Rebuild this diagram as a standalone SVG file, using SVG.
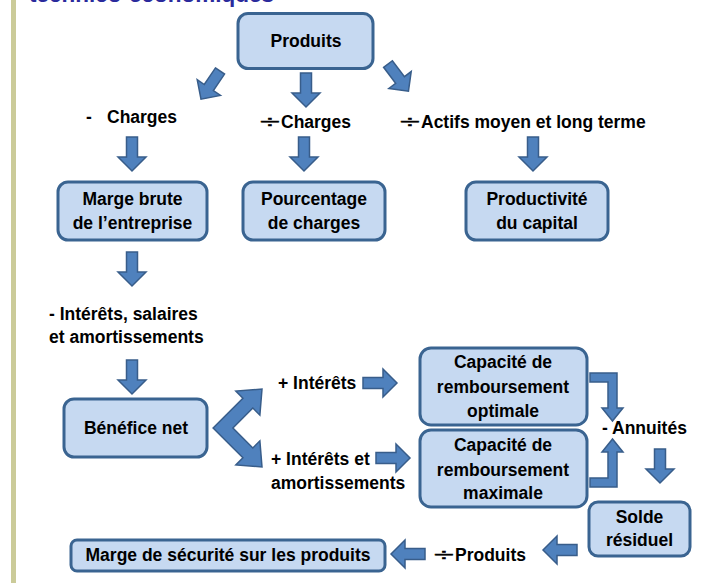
<svg xmlns="http://www.w3.org/2000/svg" width="704" height="583" viewBox="0 0 704 583">
<style>
.box{fill:#C6D9F1;stroke:#3A6491;stroke-width:3}
.t{font-family:"Liberation Sans",Arial,sans-serif;font-weight:bold;font-size:17.5px;fill:#000}
.c{text-anchor:middle}
.dv{font-family:"Liberation Sans",Arial,sans-serif;font-size:19px;fill:#000;text-anchor:middle;stroke:#000;stroke-width:0.4}
.arr{fill:#4F81BD;stroke:#385D8A;stroke-width:1.5;stroke-linejoin:miter}
</style>
<defs>
<path id="dn" d="M-5.5,0 H5.5 V20 H14 L0,34 L-14,20 H-5.5 Z"/>
</defs>
<rect x="11" y="0" width="5" height="583" fill="#CBCB99"/>
<text x="29" y="2.2" font-family="Liberation Sans, Arial, sans-serif" font-weight="bold" font-size="22.5" fill="#2A2A9C">technico-économiques</text>

<g id="produits"><rect class="box" x="238" y="13.5" width="135" height="55" rx="10"/><text class="t c" x="306" y="47">Produits</text></g>

<g id="lbl-charges1"><text class="t" x="86" y="123">-</text><text class="t" x="107" y="123">Charges</text></g>
<g id="lbl-charges2"><text class="dv" transform="translate(270,128) scale(1.9,1)">÷</text><text class="t" x="281" y="128">Charges</text></g>
<g id="lbl-actifs"><text class="dv" transform="translate(410,128) scale(1.9,1)">÷</text><text class="t" x="421" y="128">Actifs moyen et long terme</text></g>

<g id="marge-brute"><rect class="box" x="58" y="182" width="149" height="58" rx="10"/><text class="t c" x="132.5" y="205">Marge brute</text><text class="t c" x="132.5" y="229">de l’entreprise</text></g>
<g id="pourcentage"><rect class="box" x="243" y="182" width="142" height="58" rx="10"/><text class="t c" x="314" y="205">Pourcentage</text><text class="t c" x="314" y="229">de charges</text></g>
<g id="productivite"><rect class="box" x="466" y="182" width="142" height="58" rx="10"/><text class="t c" x="537" y="205">Productivité</text><text class="t c" x="537" y="229">du capital</text></g>

<g id="lbl-interets-salaires"><text class="t" x="49" y="320">- Intérêts, salaires</text><text class="t" x="49" y="343">et amortissements</text></g>

<g id="benefice"><rect class="box" x="64" y="399" width="143" height="58" rx="10"/><text class="t c" x="136" y="434">Bénéfice net</text></g>

<g id="lbl-interets"><text class="t" x="278" y="389">+ Intérêts</text></g>
<g id="lbl-interets-amort"><text class="t" x="271" y="465">+ Intérêts et</text><text class="t" x="271" y="489">amortissements</text></g>

<g id="cap-optimale"><rect class="box" x="420" y="348" width="167" height="77" rx="11"/><text class="t c" x="503" y="368">Capacité de</text><text class="t c" x="503" y="393">remboursement</text><text class="t c" x="503" y="417">optimale</text></g>
<g id="cap-maximale"><rect class="box" x="420" y="430" width="167" height="77" rx="11"/><text class="t c" x="503" y="451">Capacité de</text><text class="t c" x="503" y="476">remboursement</text><text class="t c" x="503" y="499">maximale</text></g>

<g id="lbl-annuites"><text class="t" x="602" y="434">- Annuités</text></g>

<g id="solde"><rect class="box" x="589" y="502" width="101" height="54" rx="9"/><text class="t c" x="639.5" y="523">Solde</text><text class="t c" x="639.5" y="546">résiduel</text></g>

<g id="lbl-produits"><text class="dv" transform="translate(444,561) scale(1.9,1)">÷</text><text class="t" x="455" y="561">Produits</text></g>
<g id="marge-securite"><rect class="box" x="71" y="540" width="314" height="31" rx="6"/><text class="t c" x="228" y="561">Marge de sécurité sur les produits</text></g>

<g id="connectors">
<use href="#dn" class="arr" transform="translate(220,71) rotate(34)"/>
<use href="#dn" class="arr" transform="translate(306,73)"/>
<use href="#dn" class="arr" transform="translate(388,64) rotate(-37)"/>
<use href="#dn" class="arr" transform="translate(132,137)"/>
<use href="#dn" class="arr" transform="translate(304,137)"/>
<use href="#dn" class="arr" transform="translate(533,137)"/>
<use href="#dn" class="arr" transform="translate(132,252)"/>
<use href="#dn" class="arr" transform="translate(132,360)"/>
<polygon class="arr" points="213.1,428 242.91,398.19 235.84,391.12 262,389 259.88,415.16 252.81,408.09 232.9,428 252.81,447.91 259.88,440.84 262,467 235.84,464.88 242.91,457.81"/>
<use href="#dn" class="arr" transform="translate(363,383) rotate(-90)"/>
<use href="#dn" class="arr" transform="translate(376,458) rotate(-90)"/>
<path class="arr" d="M590,373 H617 V408 H623 L612.5,421 L602,408 H608 V382 H590 Z"/>
<path class="arr" d="M590,487 H617 V452 H623 L612.5,439 L602,452 H608 V478 H590 Z"/>
<use href="#dn" class="arr" transform="translate(660,449)"/>
<use href="#dn" class="arr" transform="translate(577,550) rotate(90)"/>
<use href="#dn" class="arr" transform="translate(425,554) rotate(90)"/>
</g>
</svg>
